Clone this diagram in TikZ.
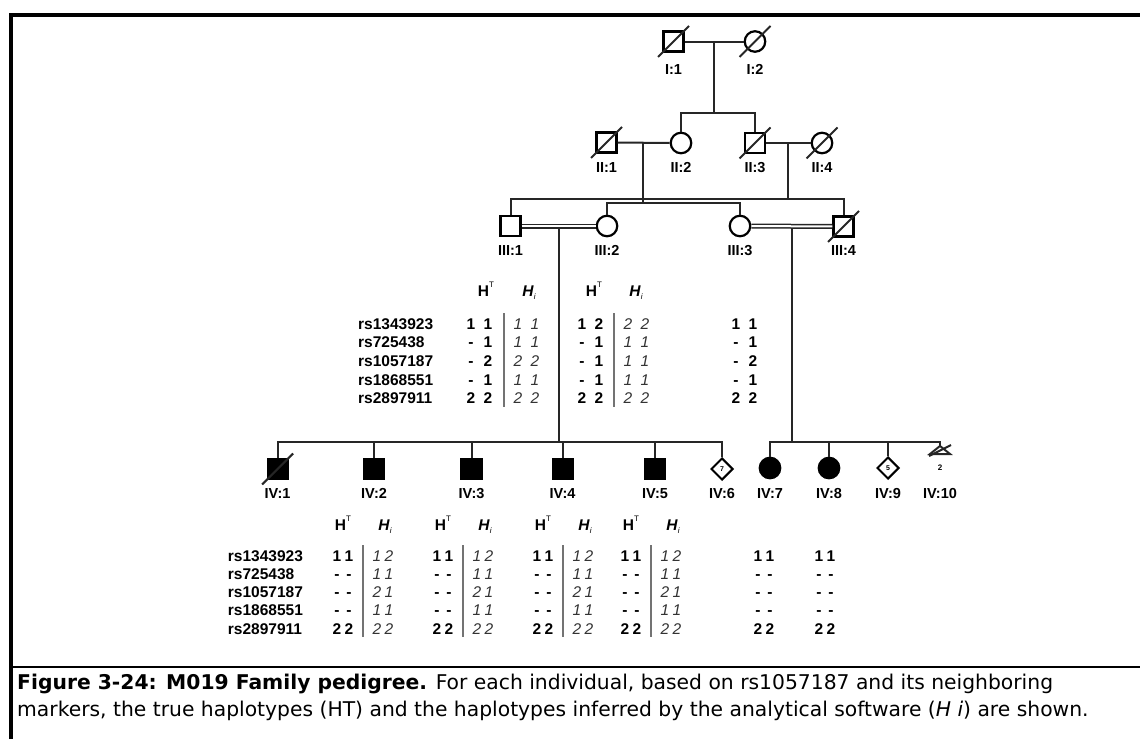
\documentclass[tikz,border=0pt]{standalone}
\usepackage{fontspec}
\setmainfont{Liberation Sans}
\newfontfamily\capfont{DejaVu Sans}
\usetikzlibrary{shapes.geometric,positioning}

% one digit or dash in a fixed-width slot
\newcommand{\dg}[1]{\makebox[0.556em][c]{#1}}
\newcommand{\hp}[3]{\dg{#1}\hspace{#3}\dg{#2}}
\newcommand{\HT}{\textbf{H}\raisebox{0.55em}{\fontsize{8}{8}\selectfont T}}
\newcommand{\Hi}{\textbf{\textit{H}}\raisebox{-0.25em}{\fontsize{8}{8}\selectfont\textit{i}}}
% slash through a deceased individual
\newcommand{\deceased}[1]{\draw[pedline] ([shift={(-15.5,15.5)}]#1.center) -- ([shift={(15.5,-15.5)}]#1.center);}

\begin{document}
\begin{tikzpicture}[x=1pt,y=-1pt]
  \tikzset{
    pedline/.style={line width=2pt, black!85},
    male/.style={rectangle, draw, line width=2.2pt, minimum size=20pt, inner sep=0pt},
    female/.style={circle, draw, line width=2.2pt, minimum size=20.5pt, inner sep=0pt},
    unknown/.style={diamond, draw, line width=2pt, minimum size=22pt, inner sep=0pt, font=\fontsize{7}{8}\selectfont\bfseries},
    affected/.style={fill=black},
    idlabel/.style={font=\fontsize{14.5}{16}\selectfont\bfseries, inner sep=0pt, anchor=base},
    marker/.style={font=\fontsize{15.5}{17}\selectfont\bfseries, inner sep=0pt, anchor=base west},
    htcell/.style={font=\fontsize{15.5}{17}\selectfont\bfseries, inner sep=0pt, anchor=base},
    hicell/.style={font=\fontsize{15.5}{17}\selectfont\itshape, black!80, inner sep=0pt, anchor=base},
    headcell/.style={font=\fontsize{15.5}{17}\selectfont, inner sep=0pt, anchor=base},
    splitline/.style={line width=1.3pt, black!55},
    captext/.style={anchor=base west, inner sep=0pt, font=\capfont\fontsize{20.3}{24}\selectfont},
  }
  \path[use as bounding box] (0,0) rectangle (1140,739);

  % frame and caption rule
  \draw[line width=4pt] (11,739) -- (11,15) -- (1140,15);
  \draw[line width=2pt] (11,667) -- (1140,667);

  % generation I
  \node[male] (I1) at (673.5,41.5) {};
  \node[female] (I2) at (755,41.5) {};
  \deceased{I1}
  \deceased{I2}
  \node[idlabel] (lI1) at (673.5,74) {I:1};
  \node[idlabel] (lI2) at (755,74) {I:2};
  \draw[pedline] (I1) -- (I2);
  \coordinate (mI) at (714,41.5);
  \coordinate (sI) at (714,113);
  \draw[pedline] (mI) -- (sI);

  % generation II
  \node[male] (II1) at (606.5,142.5) {};
  \node[female] (II2) at (681,143) {};
  \node[male] (II3) at (755,143) {};
  \node[female] (II4) at (822,143) {};
  \deceased{II1}
  \deceased{II3}
  \deceased{II4}
  \node[idlabel] (lII1) at (606.5,172) {II:1};
  \node[idlabel] (lII2) at (681,172) {II:2};
  \node[idlabel] (lII3) at (755,172) {II:3};
  \node[idlabel] (lII4) at (822,172) {II:4};
  \draw[pedline] (II2.north) -- (II2.north |- sI) -| (II3.north);
  \draw[pedline] (II1) -- (II2);
  \draw[pedline] (II3) -- (II4);
  \coordinate (mII12) at (643,143);
  \coordinate (mII34) at (788,143);

  % generation III
  \node[male] (III1) at (510.5,226) {};
  \node[female] (III2) at (607,226) {};
  \node[female] (III3) at (740,226) {};
  \node[male] (III4) at (843.5,226.5) {};
  \deceased{III4}
  \node[idlabel] (lIII1) at (510.5,255.5) {III:1};
  \node[idlabel] (lIII2) at (607,255.5) {III:2};
  \node[idlabel] (lIII3) at (740,255.5) {III:3};
  \node[idlabel] (lIII4) at (843.5,255.5) {III:4};
  \coordinate (sII34) at (788,199);
  \coordinate (sII12) at (643,203);
  \draw[pedline] (mII34) -- (sII34);
  \draw[pedline] (mII12) -- (sII12);
  \draw[pedline] (III1.north) -- (III1.north |- sII34) -| (III4.north);
  \draw[pedline] (III2.north) -- (III2.north |- sII12) -| (III3.north);
  \draw[pedline, line width=1.5pt, double, double distance=2pt] (III1) -- (III2);
  \draw[pedline, line width=1.5pt, double, double distance=2pt] (III3) -- (III4);
  \coordinate (mIII12) at (559,228);
  \coordinate (mIII34) at (792,228);
  \coordinate (sIII12) at (559,441.5);
  \coordinate (sIII34) at (792,441.5);
  \draw[pedline] (mIII12) -- (sIII12);
  \draw[pedline] (mIII34) -- (sIII34);

  % generation IV
  \node[male, affected] (IV1) at (277.6,469) {};
  \node[male, affected] (IV2) at (374,469) {};
  \node[male, affected] (IV3) at (471.5,469) {};
  \node[male, affected] (IV4) at (562.6,469) {};
  \node[male, affected] (IV5) at (655,469) {};
  \node[unknown] (IV6) at (722,469) {7};
  \node[female, affected] (IV7) at (770,468) {};
  \node[female, affected] (IV8) at (829,468) {};
  \node[unknown] (IV9) at (888,468) {5};
  \coordinate (IV10) at (940,446);
  \deceased{IV1}
  \draw[pedline] (IV1.north) -- (IV1.north |- sIII12) -| (IV6.north);
  \foreach \k in {IV2,IV3,IV4,IV5}
    \draw[pedline] (\k.north) -- (\k.north |- sIII12);
  \draw[pedline] (IV7.north) -- (IV7.north |- sIII34) -| (IV10);
  \draw[pedline] (IV8.north) -- (IV8.north |- sIII34);
  \draw[pedline] (IV9.north) -- (IV9.north |- sIII34);
  \draw[pedline] (IV10) -- ++(-10,8) -- ++(20,0) -- cycle;
  \draw[pedline] ([shift={(-11,10)}]IV10) -- ([shift={(11,-1)}]IV10);
  \node[font=\fontsize{8}{8}\selectfont\bfseries, inner sep=0pt] (nIV10) at (940,468) {2};
  \foreach \k/\x in {1/277.6,2/374,3/471.5,4/562.6,5/655,6/722,7/770,8/829,9/888,10/940}
    \node[idlabel] (lIV\k) at (\x,498) {IV:\k};

  % haplotypes of generation III
  \node[headcell] (hA) at (486,296) {\HT};
  \node[headcell] (iA) at (529,296) {\Hi};
  \node[headcell] (hB) at (594,296) {\HT};
  \node[headcell] (iB) at (636,296) {\Hi};
  \foreach \m [count=\r] in {rs1343923,rs725438,rs1057187,rs1868551,rs2897911}
    \node[marker] (mkA\r) at (358,{329+18.7*(\r-1)}) {\m};
  \foreach \a/\b/\c/\d [count=\r] in {1/1/1/1,-/1/1/1,-/2/2/2,-/1/1/1,2/2/2/2} {
    \node[htcell] (htA\r) at (479.5,{329+18.7*(\r-1)}) {\hp{\a}{\b}{8.4pt}};
    \node[hicell] (hiA\r) at (526.5,{329+18.7*(\r-1)}) {\hp{\c}{\d}{8.4pt}};
  }
  \foreach \a/\b/\c/\d [count=\r] in {1/2/2/2,-/1/1/1,-/1/1/1,-/1/1/1,2/2/2/2} {
    \node[htcell] (htB\r) at (590.5,{329+18.7*(\r-1)}) {\hp{\a}{\b}{8.4pt}};
    \node[hicell] (hiB\r) at (636.5,{329+18.7*(\r-1)}) {\hp{\c}{\d}{8.4pt}};
  }
  \foreach \a/\b [count=\r] in {1/1,-/1,-/2,-/1,2/2}
    \node[htcell] (htC\r) at (744.5,{329+18.7*(\r-1)}) {\hp{\a}{\b}{8.4pt}};
  \draw[splitline] (504,313) -- (504,407);
  \draw[splitline] (614,313) -- (614,407);

  % haplotypes of generation IV
  \foreach \m [count=\r] in {rs1343923,rs725438,rs1057187,rs1868551,rs2897911}
    \node[marker] (mkB\r) at (227.7,{561+18.3*(\r-1)}) {\m};
  \foreach \g/\x in {2/343,3/443,4/543,5/631} {
    \node[headcell] (hIV\g) at (\x,530) {\HT};
    \node[headcell] (iIV\g) at (\x+42,530) {\Hi};
    \draw[splitline] (\x+20,545) -- (\x+20,637);
    \foreach \a/\b/\c/\d [count=\r] in {1/1/1/2,-/-/1/1,-/-/2/1,-/-/1/1,2/2/2/2} {
      \node[htcell] (htIV\g-\r) at (\x,{561+18.3*(\r-1)}) {\hp{\a}{\b}{3.4pt}};
      \node[hicell] (hiIV\g-\r) at (\x+40,{561+18.3*(\r-1)}) {\hp{\c}{\d}{3.4pt}};
    }
  }
  \foreach \g/\x in {7/764,8/825}
    \foreach \a/\b [count=\r] in {1/1,-/-,-/-,-/-,2/2}
      \node[htcell] (htIV\g-\r) at (\x,{561+18.3*(\r-1)}) {\hp{\a}{\b}{3.4pt}};

  % caption
  \node[captext] (cap1) at (17,689)
    {\textbf{Figure 3-24: M019 Family pedigree.} For each individual, based on rs1057187 and its neighboring};
  \node[captext] (cap2) at (17,716)
    {markers, the true haplotypes (HT) and the haplotypes inferred by the analytical software (\textit{H i}) are shown.};
\end{tikzpicture}
\end{document}
